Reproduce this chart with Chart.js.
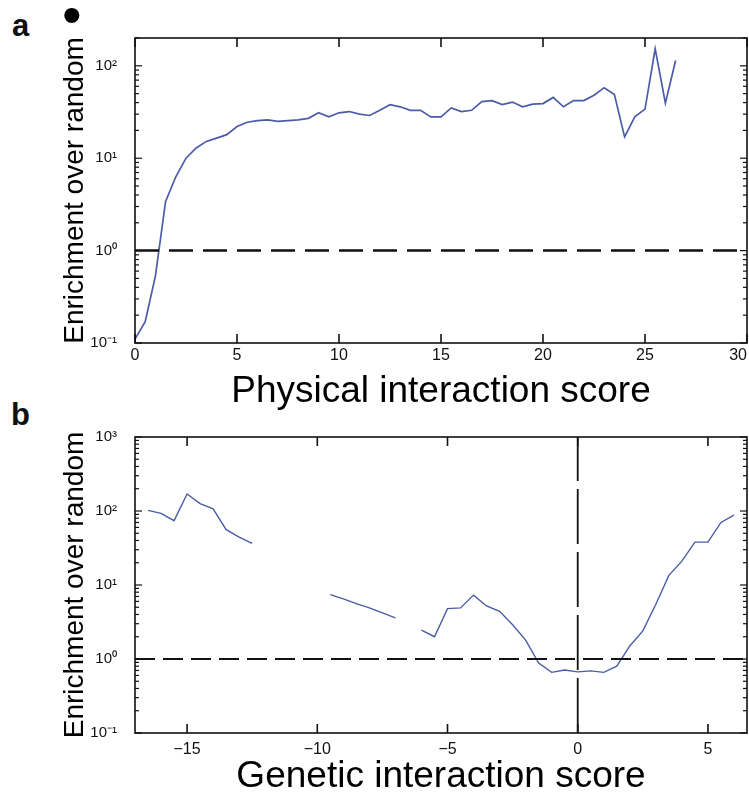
<!DOCTYPE html>
<html>
<head>
<meta charset="utf-8">
<script src="https://cdn.jsdelivr.net/npm/chart.js@4/dist/chart.umd.min.js"></script>
<style>
  html, body { margin: 0; padding: 0; background: #fff; width: 749px; height: 795px; overflow: hidden; position: relative; }
  canvas { position: absolute; left: 0; }
  #ca { top: 0; }
  #cb { top: 410px; }
  .panel { position: absolute; font-family: "Liberation Sans", Arial, sans-serif; font-weight: bold; font-size: 31px; line-height: 30px; color: #111; }
  .dot { position: absolute; font-family: "Liberation Sans", Arial, sans-serif; font-size: 56px; line-height: 56px; color: #000; }
</style>
</head>
<body>
<div class="panel" style="left:12px; top:11px;">a</div>
<div class="dot" style="left:62px; top:-13px;">•</div>
<div class="panel" style="left:11px; top:400px;">b</div>
<canvas id="ca" width="790" height="410"></canvas>
<canvas id="cb" width="790" height="385"></canvas>
<script>
// ---------- Panel a: physical interaction ----------
const physScore = [0, 0.5, 1, 1.5, 2, 2.5, 3, 3.5, 4, 4.5, 5, 5.5, 6, 6.5, 7, 7.5, 8, 8.5, 9, 9.5,
  10, 10.5, 11, 11.5, 12, 12.5, 13, 13.5, 14, 14.5, 15, 15.5, 16, 16.5, 17, 17.5, 18, 18.5, 19, 19.5,
  20, 20.5, 21, 21.5, 22, 22.5, 23, 23.5, 24, 24.5, 25, 25.5, 26, 26.5];
const physEnrich = [0.11, 0.17, 0.53, 3.4, 6.3, 10, 12.9, 15.2, 16.5, 18, 22, 24.5, 25.5, 26, 25, 25.5, 26, 27, 31, 28,
  31, 32, 30, 29, 33, 38, 36, 33, 33, 28, 28, 35, 32, 33, 41, 42, 38, 40.5, 36, 38.5,
  39, 45.5, 36, 42, 42, 48, 58, 49, 17, 28, 34, 153, 39.5, 114];
const physXTicks = [0, 5, 10, 15, 20, 25, 30];
const physXTickLabels = ['0', '5', '10', '15', '20', '25', '30'];
const physYTicks = [0.1, 1, 10, 100];
const physYTickLabels = ['10\u207B\u00B9', '10\u2070', '10\u00B9', '10\u00B2'];
const physRefX = [0, 30];
const physRefY = [1, 1];

// ---------- Panel b: genetic interaction ----------
const genScore = [-16.5, -16, -15.5, -15, -14.5, -14, -13.5, -13, -12.5, -12, -11.5, -11, -10.5, -10,
  -9.5, -9, -8.5, -8, -7.5, -7, -6.5, -6, -5.5, -5, -4.5, -4, -3.5, -3, -2.5, -2, -1.5, -1, -0.5,
  0, 0.5, 1, 1.5, 2, 2.5, 3, 3.5, 4, 4.5, 5, 5.5, 6];
const genEnrich = [102, 93, 74, 170, 126, 107, 56, 44.5, 36.5, null, null, null, null, null,
  7.4, 6.5, 5.6, 4.9, 4.2, 3.6, null, 2.45, 2.0, 4.8, 4.9, 7.3, 5.2, 4.4, 2.9, 1.8, 0.88, 0.66, 0.71,
  0.67, 0.69, 0.66, 0.80, 1.5, 2.4, 5.5, 13.5, 21, 38, 38, 70, 88];
const genXTicks = [-15, -10, -5, 0, 5];
const genXTickLabels = ['\u221215', '\u221210', '\u22125', '0', '5'];
const genYTicks = [0.1, 1, 10, 100, 1000];
const genYTickLabels = ['10\u207B\u00B9', '10\u2070', '10\u00B9', '10\u00B2', '10\u00B3'];
const genRefHX = [-17, 6.5];
const genRefHY = [1, 1];
const genRefVX = [0, 0];
const genRefVY = [0.1, 1000];

const BLUE = '#4a5ca8';
const FONT = '"Liberation Sans", Arial, sans-serif';

function pts(xs, ys) { return xs.map((x, i) => ({ x: x, y: ys[i] })); }

const framePlugin = {
  id: 'frame',
  afterDatasetsDraw(chart, args, o) {
    const { ctx, chartArea: a, scales: { x, y } } = chart;
    ctx.save();
    ctx.strokeStyle = '#111';
    ctx.lineWidth = 1.6;
    ctx.lineCap = 'butt';
    const seg = (x1, y1, x2, y2) => { ctx.beginPath(); ctx.moveTo(x1, y1); ctx.lineTo(x2, y2); ctx.stroke(); };
    ctx.strokeRect(a.left, a.top, a.right - a.left, a.bottom - a.top);
    o.xTicks.forEach(v => {
      const px = x.getPixelForValue(v);
      seg(px, a.bottom, px, a.bottom - o.xLen);
      seg(px, a.top, px, a.top + o.xLen);
    });
    ctx.lineWidth = 1.2;
    const lo = Math.floor(Math.log10(y.min)), hi = Math.ceil(Math.log10(y.max));
    for (let e = lo; e <= hi; e++) {
      for (let m = 1; m <= 9; m++) {
        const v = m * Math.pow(10, e);
        if (v < y.min * 0.999 || v > y.max * 1.001) continue;
        const py = y.getPixelForValue(v);
        const len = m === 1 ? o.yMajor : o.yMinor;
        seg(a.left, py, a.left + len, py);
        seg(a.right, py, a.right - len, py);
      }
    }
    ctx.restore();
  }
};

function makeChart(id, cfg) {
  const H = document.getElementById(id).height;
  return new Chart(document.getElementById(id), {
    type: 'line',
    data: { datasets: cfg.datasets },
    options: {
      responsive: false,
      animation: false,
      events: [],
      layout: { padding: { top: cfg.top, left: 0, right: 790 - 747, bottom: 0 } },
      plugins: { legend: { display: false }, tooltip: { enabled: false }, frame: cfg.frame },
      scales: {
        x: {
          type: 'linear', min: cfg.xMin, max: cfg.xMax,
          grid: { display: false, drawTicks: false },
          border: { display: false },
          afterFit: s => { s.height = H - cfg.bottom; },
          afterBuildTicks: s => { s.ticks = cfg.xTicks.map(v => ({ value: v })); },
          ticks: {
            padding: cfg.xPad, color: '#111', maxRotation: 0, autoSkip: false,
            font: { family: FONT, size: 16 },
            callback: (v) => {
              const i = cfg.xTicks.indexOf(v);
              if (i < 0) return '';
              // last label sits against the page edge in the original: keep it fully visible
              return (v === cfg.xMax) ? cfg.xLabels[i] + '\u2007\u2007' : cfg.xLabels[i];
            }
          },
          title: {
            display: true, text: cfg.xTitle, color: '#000',
            font: { family: FONT, size: 37, lineHeight: 1 }, padding: { top: 0, bottom: 0 }
          }
        },
        y: {
          type: 'logarithmic', min: cfg.yMin, max: cfg.yMax,
          grid: { display: false, drawTicks: false },
          border: { display: false },
          afterFit: s => { s.width = 135; },
          afterBuildTicks: s => { s.ticks = cfg.yTicks.map(v => ({ value: v })); },
          ticks: {
            padding: 18, color: '#111', autoSkip: false,
            font: { family: FONT, size: 15 },
            callback: (v) => { const i = cfg.yTicks.indexOf(v); return i >= 0 ? cfg.yLabels[i] : ''; }
          },
          title: {
            display: true, text: 'Enrichment over random', color: '#000',
            font: { family: FONT, size: 28, lineHeight: 1 }, padding: { top: 61, bottom: 0 }
          }
        }
      }
    },
    plugins: [framePlugin]
  });
}

makeChart('ca', {
  top: 38, bottom: 343, xPad: 3,
  xMin: 0, xMax: 30, yMin: 0.1, yMax: 200,
  xTicks: physXTicks, xLabels: physXTickLabels,
  yTicks: physYTicks, yLabels: physYTickLabels,
  xTitle: 'Physical interaction score',
  frame: { xTicks: physXTicks, xLen: 9, yMajor: 7, yMinor: 4 },
  datasets: [
    { data: pts(physRefX, physRefY), borderColor: '#111', borderWidth: 2.5, borderDash: [24, 10], pointRadius: 0, fill: false },
    { data: pts(physScore, physEnrich), borderColor: BLUE, borderWidth: 1.7, pointRadius: 0, tension: 0, fill: false }
  ]
});

makeChart('cb', {
  top: 19, bottom: 323, xPad: 7,
  xMin: -17, xMax: 6.5, yMin: 0.1, yMax: 1000,
  xTicks: genXTicks, xLabels: genXTickLabels,
  yTicks: genYTicks, yLabels: genYTickLabels,
  xTitle: 'Genetic interaction score',
  frame: { xTicks: genXTicks, xLen: 9, yMajor: 7, yMinor: 4 },
  datasets: [
    { data: pts(genRefHX, genRefHY), borderColor: '#111', borderWidth: 1.8, borderDash: [20, 8], pointRadius: 0, fill: false },
    { data: pts(genRefVX, genRefVY), borderColor: '#111', borderWidth: 1.8, borderDash: [55, 8], pointRadius: 0, fill: false },
    { data: pts(genScore, genEnrich), borderColor: BLUE, borderWidth: 1.4, pointRadius: 0, tension: 0, fill: false, spanGaps: false }
  ]
});
</script>
</body>
</html>
